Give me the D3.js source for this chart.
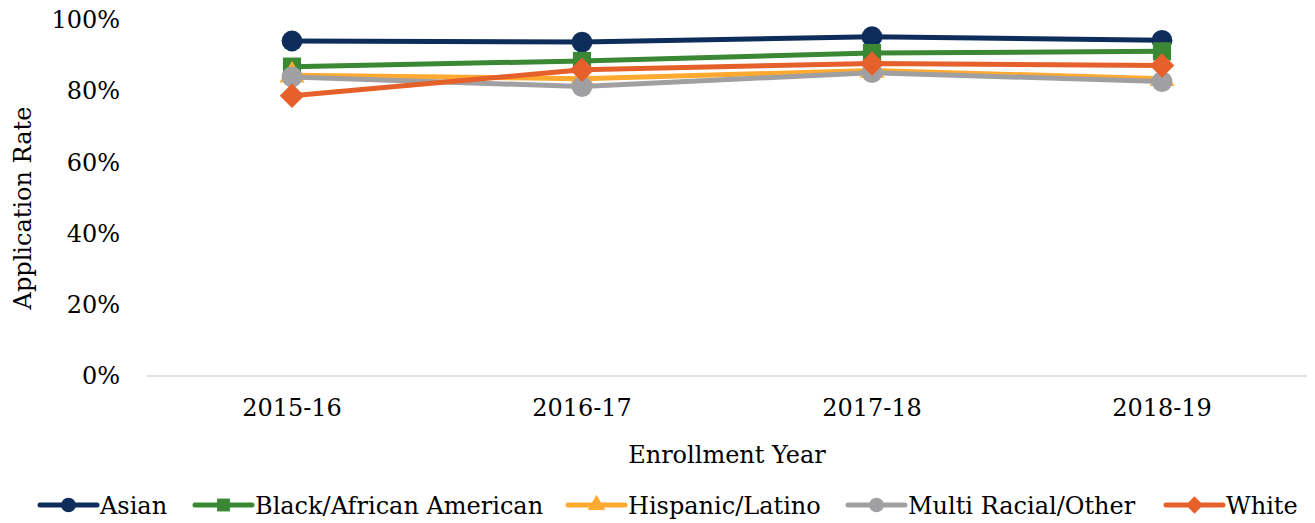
<!DOCTYPE html>
<html>
<head>
<meta charset="utf-8">
<script src="https://cdn.jsdelivr.net/npm/d3@7"></script>
<style>
  body { margin: 0; background: #fff; }
  text { font-family: "DejaVu Serif", serif; fill: #000; }
</style>
</head>
<body>
<div id="chart"></div>
<script>
// chart data
var years = ["2015-16", "2016-17", "2017-18", "2018-19"];
var seriesNames = ["Asian", "Black/African American", "Hispanic/Latino", "Multi Racial/Other", "White"];
var asian = [0.941, 0.938, 0.953, 0.943];
var black = [0.869, 0.885, 0.907, 0.912];
var hispanic = [0.845, 0.835, 0.858, 0.835];
var multi = [0.840, 0.813, 0.852, 0.827];
var white = [0.787, 0.860, 0.878, 0.872];
var yTicks = [0, 0.2, 0.4, 0.6, 0.8, 1.0];

var colors = ["#0e2d5b", "#3a8734", "#ffa930", "#a0a0a3", "#e5602a"];
// diamond = square turned 45 degrees
var symbols = [d3.symbolCircle, d3.symbolSquare, d3.symbolTriangle, d3.symbolCircle, d3.symbolSquare];
var rotations = [0, 0, 0, 0, 45];
var markerSize = [340, 330, 270, 340, 300];
var allValues = [asian, black, hispanic, multi, white];

var W = 1315, H = 523;
var margin = {top: 20, right: 8, bottom: 147, left: 147};
var width = W - margin.left - margin.right,
    height = H - margin.top - margin.bottom;

var svg = d3.select("#chart")
    .append("svg")
    .attr("width", W)
    .attr("height", H);

var g = svg.append("g")
    .attr("transform", "translate(" + margin.left + "," + margin.top + ")");

var x = d3.scaleBand()
    .domain(years)
    .range([0, width]);

var y = d3.scaleLinear()
    .domain([0, 1])
    .range([height, 0]);

// Y axis (labels only)
var yAxis = g.append("g")
    .call(d3.axisLeft(y).tickValues(yTicks).tickFormat(d3.format(".0%")).tickSize(0).tickPadding(27));
yAxis.select(".domain").remove();
yAxis.selectAll("text").style("font-size", "24px").attr("fill", "#000");

// baseline
g.append("line")
    .attr("x1", 0).attr("x2", width)
    .attr("y1", y(0)).attr("y2", y(0))
    .attr("stroke", "#d9d9d9")
    .attr("stroke-width", 1.5);

// X axis labels
var xAxis = g.append("g")
    .attr("transform", "translate(0," + height + ")")
    .call(d3.axisBottom(x).tickSize(0).tickPadding(23));
xAxis.select(".domain").remove();
xAxis.selectAll("text").style("font-size", "24px").attr("fill", "#000");

// axis titles
svg.append("text")
    .attr("transform", "translate(31," + (margin.top + height / 2 + 10) + ")rotate(-90)")
    .attr("text-anchor", "middle")
    .style("font-size", "24px")
    .text("Application Rate");

svg.append("text")
    .attr("x", 727)
    .attr("y", 463)
    .attr("text-anchor", "middle")
    .style("font-size", "24px")
    .text("Enrollment Year");

// series
var line = d3.line()
    .x(function(d, i) { return x(years[i]) + x.bandwidth() / 2; })
    .y(function(d) { return y(d); });

allValues.forEach(function(vals, s) {
    var sg = g.append("g");
    sg.append("path")
        .datum(vals)
        .attr("d", line)
        .attr("fill", "none")
        .attr("stroke", colors[s])
        .attr("stroke-width", 5)
        .attr("stroke-linejoin", "round");
    sg.selectAll("path.mk")
        .data(vals)
        .enter()
        .append("path")
        .attr("class", "mk")
        .attr("d", d3.symbol().type(symbols[s]).size(markerSize[s]))
        .attr("transform", function(d, i) {
            return "translate(" + (x(years[i]) + x.bandwidth() / 2) + "," + y(d) + ")rotate(" + rotations[s] + ")";
        })
        .attr("fill", colors[s]);
});

// legend
var legendX = [40, 195, 568, 848, 1166];
var legend = svg.append("g").attr("transform", "translate(0,505)");
seriesNames.forEach(function(name, s) {
    var lg = legend.append("g").attr("transform", "translate(" + legendX[s] + ",0)");
    lg.append("line")
        .attr("x1", 0).attr("x2", 57)
        .attr("y1", 0).attr("y2", 0)
        .attr("stroke", colors[s])
        .attr("stroke-width", 5)
        .attr("stroke-linecap", "round");
    lg.append("path")
        .attr("d", d3.symbol().type(symbols[s]).size(markerSize[s] * 0.5))
        .attr("transform", "translate(28.5,0)rotate(" + rotations[s] + ")")
        .attr("fill", colors[s]);
    lg.append("text")
        .attr("x", 60)
        .attr("y", 9)
        .style("font-size", "24px")
        .text(name);
});
</script>
</body>
</html>
